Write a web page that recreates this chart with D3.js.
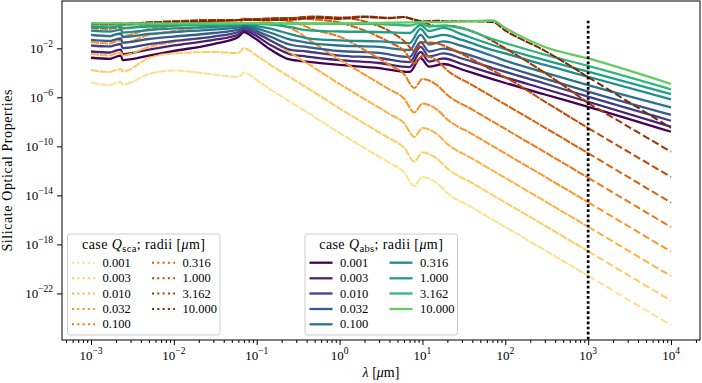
<!DOCTYPE html>
<meta charset="utf-8">
<script src="https://d3js.org/d3.v7.min.js"></script>
<style>
  body { margin: 0; background: #fff; }
  text { font-family: "Liberation Serif", "DejaVu Serif", serif; fill: #000; }
</style>
<div id="chart"></div>
<script>

// radii of the grains, in micron (legend labels)
var radii = ["0.001", "0.003", "0.010", "0.032", "0.100", "0.316", "1.000", "3.162", "10.000"];

var lambdaAbs = [0.001, 0.0017, 0.0019, 0.0023, 0.0024, 0.005, 0.01, 0.03, 0.06, 0.07, 0.09, 0.15, 0.25, 0.4,
                 1, 3, 7, 9.5, 12, 18, 30, 70, 100, 300, 1000, 10000];
var lambdaSca = [0.001, 0.0017, 0.0019, 0.0023, 0.0024, 0.005, 0.01, 0.03, 0.06, 0.07, 0.1, 0.15, 0.3, 0.5,
                 1, 2, 4, 6, 8, 10, 15, 20, 40, 70, 100, 300, 1000, 10000];
// beyond this wavelength the scattering curves are extrapolated (dashed)
var lambdaCut = 1000;

// log10 Q_abs, one array per radius
var qabs_0001 = [-2.77, -2.86, -2.75, -2.59, -2.96, -2.59, -2.22, -1.65, -1.08, -0.67, -1.08, -2.14, -2.91, -3.08, -3.36, -3.61, -3.93, -2.79, -3.49, -3.28, -3.73, -4.51, -4.83, -5.77, -6.77, -8.81];
var qabs_0003 = [-2.26, -2.34, -2.24, -2.10, -2.47, -2.10, -1.77, -1.32, -0.87, -0.51, -0.83, -1.77, -2.47, -2.67, -2.96, -3.20, -3.53, -2.30, -3.08, -2.83, -3.28, -4.06, -4.38, -5.32, -6.36, -8.40];
var qabs_0010 = [-1.77, -1.85, -1.77, -1.65, -1.98, -1.65, -1.40, -1.04, -0.67, -0.34, -0.63, -1.40, -2.10, -2.26, -2.59, -2.79, -3.12, -1.89, -2.67, -2.42, -2.83, -3.61, -3.93, -4.87, -5.95, -7.91];
var qabs_0032 = [-1.32, -1.40, -1.32, -1.20, -1.53, -1.24, -1.04, -0.75, -0.47, -0.22, -0.47, -1.08, -1.69, -1.89, -2.22, -2.38, -2.71, -1.49, -2.26, -2.02, -2.38, -3.16, -3.49, -4.47, -5.54, -7.44];
var qabs_0100 = [-0.91, -1.00, -0.91, -0.79, -1.08, -0.83, -0.67, -0.47, -0.30, -0.10, -0.30, -0.75, -1.28, -1.53, -1.77, -1.89, -2.14, -0.91, -1.69, -1.44, -1.81, -2.63, -3.00, -3.98, -5.00, -6.82];
var qabs_0316 = [-0.56, -0.63, -0.57, -0.47, -0.71, -0.51, -0.38, -0.26, -0.14, 0.02, -0.14, -0.42, -0.83, -1.16, -1.36, -1.44, -1.57, -0.42, -1.12, -0.91, -1.32, -2.14, -2.42, -3.36, -4.32, -6.16];
var qabs_1000 = [-0.24, -0.29, -0.24, -0.18, -0.34, -0.22, -0.14, -0.08, -0.02, 0.04, 0.00, -0.06, -0.26, -0.51, -0.63, -0.67, -0.75, -0.10, -0.59, -0.34, -0.87, -1.73, -2.06, -2.96, -3.91, -5.73];
var qabs_3162 = [-0.02, -0.04, -0.02, 0.00, -0.06, -0.02, 0.00, 0.02, 0.02, 0.05, 0.03, 0.02, 0.02, 0.01, 0.00, -0.02, -0.14, 0.07, -0.22, -0.14, -0.38, -1.24, -1.57, -2.51, -3.44, -5.35];
var qabs_10000 = [0.04, 0.03, 0.04, 0.04, 0.03, 0.04, 0.04, 0.04, 0.04, 0.05, 0.05, 0.04, 0.04, 0.04, 0.04, 0.07, 0.11, 0.13, 0.13, 0.15, 0.19, 0.27, -0.34, -1.89, -2.83, -4.91];

// log10 Q_sca, one array per radius
var qsca_0001 = [-4.81, -5.00, -4.87, -4.75, -4.95, -4.10, -3.81, -4.14, -4.34, -3.98, -4.59, -5.40, -6.67, -7.61, -8.91, -10.14, -11.36, -12.10, -13.24, -12.51, -13.00, -13.81, -15.00, -15.97, -16.58, -18.47, -20.56, -24.59];
var qsca_0003 = [-3.77, -3.93, -3.81, -3.69, -3.89, -2.79, -2.42, -2.30, -2.38, -2.00, -2.59, -3.40, -4.67, -5.61, -6.91, -8.14, -9.36, -10.10, -11.24, -10.51, -11.00, -11.81, -13.00, -13.97, -14.58, -16.47, -18.56, -22.59];
var qsca_0010 = [-2.47, -2.59, -2.47, -2.34, -2.59, -1.89, -1.49, -1.04, -0.67, -0.18, -0.59, -1.40, -2.67, -3.61, -4.91, -6.14, -7.36, -8.10, -9.24, -8.51, -9.00, -9.81, -11.00, -11.97, -12.58, -14.47, -16.56, -20.59];
var qsca_0032 = [-1.49, -1.61, -1.49, -1.36, -1.57, -0.91, -0.59, -0.18, 0.11, 0.31, 0.30, 0.10, -0.60, -1.61, -2.91, -4.14, -5.36, -6.10, -7.24, -6.51, -7.00, -7.81, -9.00, -9.97, -10.58, -12.47, -14.56, -18.59];
var qsca_0100 = [-0.91, -1.04, -0.91, -0.83, -1.00, -0.42, -0.18, 0.15, 0.31, 0.43, 0.31, 0.35, 0.07, -0.51, -1.05, -2.14, -3.36, -4.10, -5.24, -4.51, -5.00, -5.81, -7.00, -7.97, -8.58, -10.47, -12.56, -16.59];
var qsca_0316 = [-0.35, -0.40, -0.35, -0.30, -0.40, -0.10, 0.05, 0.20, 0.30, 0.35, 0.35, 0.40, 0.45, 0.35, 0.10, -0.55, -1.50, -2.20, -3.24, -2.60, -3.00, -3.81, -5.00, -5.97, -6.58, -8.47, -10.56, -14.59];
var qsca_1000 = [-0.05, -0.07, -0.05, -0.03, -0.06, 0.10, 0.20, 0.30, 0.30, 0.35, 0.35, 0.40, 0.45, 0.55, 0.50, 0.20, -0.60, -1.40, -2.20, -1.50, -1.60, -1.90, -2.90, -3.80, -4.35, -6.35, -8.51, -12.50];
var qsca_3162 = [0.00, -0.02, 0.00, 0.01, -0.01, 0.10, 0.20, 0.30, 0.30, 0.35, 0.40, 0.45, 0.50, 0.60, 0.50, 0.60, 0.50, 0.55, 0.30, 0.15, -0.20, -0.15, -0.60, -1.40, -2.00, -4.00, -6.47, -10.44];
var qsca_10000 = [0.02, 0.00, 0.02, 0.03, 0.01, 0.10, 0.15, 0.25, 0.30, 0.30, 0.30, 0.30, 0.35, 0.50, 0.40, 0.55, 0.45, 0.55, 0.35, 0.20, 0.25, 0.20, 0.20, 0.15, -0.55, -2.20, -4.35, -8.50];

// tick values
var xMajor = [1e-3, 1e-2, 1e-1, 1e0, 1e1, 1e2, 1e3, 1e4];
var yMajor = [1e-22, 1e-18, 1e-14, 1e-10, 1e-6, 1e-2];

var absSeries = [qabs_0001, qabs_0003, qabs_0010, qabs_0032, qabs_0100, qabs_0316, qabs_1000, qabs_3162, qabs_10000];
var scaSeries = [qsca_0001, qsca_0003, qsca_0010, qsca_0032, qsca_0100, qsca_0316, qsca_1000, qsca_3162, qsca_10000];

var absColor = function(i) { return d3.interpolateViridis(i * 0.095); };
var scaColor = function(i) { return d3.interpolateYlOrBr(0.25 + i * 0.0875); };

// plot area
var pLeft = 62, pRight = 700, pTop = 1, pBottom = 340;

var svg = d3.select("#chart")
  .append("svg")
    .attr("width", 702)
    .attr("height", 383);

var x = d3.scaleLog()
  .domain([Math.pow(10, -3.35), Math.pow(10, 4.35)])
  .range([pLeft, pRight]);

var y = d3.scaleLog()
  .domain([Math.pow(10, -25.8), Math.pow(10, 1.86)])
  .range([pBottom, pTop]);

svg.append("clipPath").attr("id", "clip")
  .append("rect")
    .attr("x", pLeft).attr("y", pTop)
    .attr("width", pRight - pLeft).attr("height", pBottom - pTop);

var line = d3.line()
  .x(function(d) { return x(d[0]); })
  .y(function(d) { return y(d[1]); })
  .curve(d3.curveMonotoneX);

var plot = svg.append("g").attr("clip-path", "url(#clip)");

// curves: for every radius the scattering curve, then the absorption curve
radii.forEach(function(r, i) {
  var sca = lambdaSca.map(function(l, j) { return [l, Math.pow(10, scaSeries[i][j])]; });
  var abs = lambdaAbs.map(function(l, j) { return [l, Math.pow(10, absSeries[i][j])]; });

  plot.append("path")
    .datum(sca.filter(function(d) { return d[0] <= lambdaCut; }))
    .attr("d", line)
    .attr("fill", "none")
    .attr("stroke", scaColor(i))
    .attr("stroke-width", 2)
    .attr("stroke-dasharray", "8,1");

  plot.append("path")
    .datum(sca.filter(function(d) { return d[0] >= lambdaCut; }))
    .attr("d", line)
    .attr("fill", "none")
    .attr("stroke", scaColor(i))
    .attr("stroke-width", 2)
    .attr("stroke-dasharray", "7.4,3.2");

  plot.append("path")
    .datum(abs)
    .attr("d", line)
    .attr("fill", "none")
    .attr("stroke", absColor(i))
    .attr("stroke-width", 2.3);
});

// vertical dotted line at the cut wavelength
plot.append("line")
  .attr("x1", x(lambdaCut)).attr("x2", x(lambdaCut))
  .attr("y1", y(1.8)).attr("y2", pBottom)
  .attr("stroke", "#000")
  .attr("stroke-width", 2.7)
  .attr("stroke-dasharray", "2.7,2.4");

// axes
var xMinor = [];
for (var k = -4; k <= 4; k++) {
  for (var m = 2; m <= 9; m++) {
    var v = m * Math.pow(10, k);
    if (v > x.domain()[0] && v < x.domain()[1]) xMinor.push(v);
  }
}

svg.append("g")
  .attr("transform", "translate(0," + pBottom + ")")
  .call(d3.axisBottom(x).tickValues(xMinor).tickSize(3).tickFormat(""))
  .call(function(g) { g.select(".domain").remove(); });

var xAxis = svg.append("g")
  .attr("transform", "translate(0," + pBottom + ")")
  .call(d3.axisBottom(x).tickValues(xMajor).tickSize(5).tickFormat(""));
xAxis.select(".domain").remove();

var yAxis = svg.append("g")
  .attr("transform", "translate(" + pLeft + ",0)")
  .call(d3.axisLeft(y).tickValues(yMajor).tickSize(5).tickFormat(""));
yAxis.select(".domain").remove();

function powLabel(t, e) {
  t.append("tspan").text("10");
  t.append("tspan").attr("dy", -6).attr("font-size", 9.5).text((e < 0 ? "\u2212" : "") + Math.abs(e));
}

xMajor.forEach(function(v) {
  var t = svg.append("text")
    .attr("x", x(v)).attr("y", 360)
    .attr("text-anchor", "middle")
    .attr("font-size", 13);
  powLabel(t, Math.round(Math.log10(v)));
});

yMajor.forEach(function(v) {
  var t = svg.append("text")
    .attr("x", 53).attr("y", y(v) + 4.5)
    .attr("text-anchor", "end")
    .attr("font-size", 13);
  powLabel(t, Math.round(Math.log10(v)));
});

// frame
svg.append("rect")
  .attr("x", pLeft).attr("y", pTop)
  .attr("width", pRight - pLeft).attr("height", pBottom - pTop)
  .attr("fill", "none")
  .attr("stroke", "#000")
  .attr("stroke-width", 1);

// axis labels
var xl = svg.append("text")
  .attr("x", (pLeft + pRight) / 2).attr("y", 377)
  .attr("text-anchor", "middle")
  .attr("font-size", 14);
xl.append("tspan").attr("font-style", "italic").text("\u03bb");
xl.append("tspan").text(" [");
xl.append("tspan").attr("font-style", "italic").text("\u03bc");
xl.append("tspan").text("m]");

svg.append("text")
  .attr("transform", "translate(12," + ((pTop + pBottom) / 2) + ") rotate(-90)")
  .attr("text-anchor", "middle")
  .attr("font-size", 14)
  .attr("textLength", 162)
  .text("Silicate Optical Properties");

// legends
function legend(x0, x1, sub, colorOf, dotted) {
  var g = svg.append("g");
  g.append("rect")
    .attr("x", x0).attr("y", 234)
    .attr("width", x1 - x0).attr("height", 101)
    .attr("rx", 2.5)
    .attr("fill", "#fff").attr("fill-opacity", 0.8)
    .attr("stroke", "#ccc").attr("stroke-width", 1);

  var t = g.append("text")
    .attr("x", (x0 + x1) / 2).attr("y", 249)
    .attr("text-anchor", "middle")
    .attr("font-size", 14)
    .attr("letter-spacing", 0.4);
  t.append("tspan").text("case ");
  t.append("tspan").attr("font-style", "italic").text("Q");
  t.append("tspan").attr("font-size", 10.5).attr("dy", 3).text(sub);
  t.append("tspan").attr("dy", -3).text("; radii [");
  t.append("tspan").attr("font-style", "italic").text("\u03bc");
  t.append("tspan").text("m]");

  var rowY = [262.7, 278.3, 293.5, 309, 324.3];
  radii.forEach(function(r, i) {
    var col = i < 5 ? 0 : 1;
    var row = i < 5 ? i : i - 5;
    var hx = x0 + 4.5 + col * 80;
    var yy = rowY[row];
    var l = g.append("line")
      .attr("x1", hx).attr("x2", hx + 23)
      .attr("y1", yy).attr("y2", yy)
      .attr("stroke", colorOf(i));
    if (dotted) l.attr("stroke-width", 2).attr("stroke-dasharray", "2,3.3");
    else l.attr("stroke-width", 2.3);
    g.append("text")
      .attr("x", hx + 30.5).attr("y", yy + 4)
      .attr("font-size", 12.5)
      .text(r);
  });
}

legend(67.5, 220, "sca", scaColor, true);
legend(305, 457.5, "abs", absColor, false);

</script>
